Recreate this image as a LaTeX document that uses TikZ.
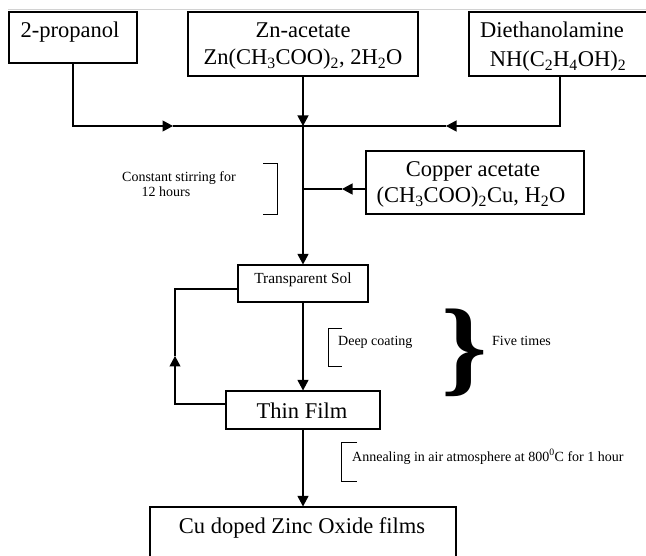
\documentclass[tikz,border=0pt]{standalone}
\usepackage{fontspec}
\setmainfont{Liberation Serif}
\usetikzlibrary{arrows.meta}
\begin{document}
\begin{tikzpicture}[x=1pt,y=-1pt,
  box/.style={draw, line width=1.1pt, inner sep=0pt},
  conn/.style={line width=1.1pt},
  arr/.style={conn, -{Triangle[length=10.5pt,width=11pt]}},
  big/.style={font=\fontsize{22.5}{26}\selectfont, inner sep=0pt, anchor=base},
  mid/.style={font=\fontsize{15.4}{18}\selectfont, inner sep=0pt, anchor=base},
  small/.style={font=\fontsize{14}{16}\selectfont, inner sep=0pt, anchor=base},
  brk/.style={line width=0.9pt}]
\useasboundingbox (0,0) rectangle (646,556);
\draw[gray!35, line width=0.8pt] (8,9) -- (646,9);
% boxes
\node[box, minimum width=128pt, minimum height=51pt] (prop) at (73,37.5) {};
\node[box, minimum width=230pt, minimum height=64pt] (zn) at (303,44) {};
\node[box, minimum width=182pt, minimum height=64pt] (dea) at (560,44) {};
\node[box, minimum width=218pt, minimum height=63pt] (cop) at (475,182.5) {};
\node[box, minimum width=130pt, minimum height=37pt] (sol) at (303,283.5) {};
\node[box, minimum width=154pt, minimum height=38pt] (thin) at (303,410) {};
\node[box, minimum width=306pt, minimum height=100pt] (cu) at (303,557) {};
% texts
\node[big] (tprop) at (70,38) {2-propanol};
\node[big] (tzn1) at (303,38) {Zn-acetate};
\node[big] (tzn2) at (303,65) {Zn(CH\textsubscript{3}COO)\textsubscript{2}, 2H\textsubscript{2}O};
\node[big] (tdea1) at (552,38) {Diethanolamine};
\node[big] (tdea2) at (558,67) {NH(C\textsubscript{2}H\textsubscript{4}OH)\textsubscript{2}};
\node[big] (tcop1) at (473,177) {Copper acetate};
\node[big] (tcop2) at (471,203) {(CH\textsubscript{3}COO)\textsubscript{2}Cu, H\textsubscript{2}O};
\node[mid] (tsol) at (303,284) {Transparent Sol};
\node[big] (tthin) at (302,418) {Thin Film};
\node[big] (tcu) at (302,533) {Cu doped Zinc Oxide films};
\node[small, anchor=base west] (tstir1) at (122,182) {Constant stirring for};
\node[small] (tstir2) at (166,197) {12 hours};
\node[small, anchor=base west] (tdeep) at (338,346) {Deep coating};
\node[small, anchor=base west] (tfive) at (492,346) {Five times};
\node[small, anchor=base west] (tann) at (352,461) {Annealing in air atmosphere at 800\textsuperscript{0}C for 1 hour};
\node[font=\fontsize{106}{106}\selectfont\bfseries, inner sep=0pt, xscale=1.1] (brace) at (464,353) {\}};
% connectors
\coordinate (j) at (303,126);
\coordinate (a1) at (173,126);
\coordinate (a2) at (446,126);
\coordinate (c1) at (342,189);
\coordinate (l1) at (175,356);
\coordinate (ly1) at (175,289);
\coordinate (ly2) at (175,404);
\draw[arr] (prop.south) |- (a1);
\draw[conn] (a1) -- (j);
\draw[arr] (dea.south) |- (a2);
\draw[conn] (a2) -- (j);
\draw[arr] (zn.south) -- (j);
\draw[arr] (j) -- (sol.north);
\draw[arr] (c1 -| cop.west) -- (c1);
\draw[conn] (c1) -- (c1 -| j);
\draw[arr] (sol.south) -- (thin.north);
\draw[arr] (thin.south) -- (cu.north);
\draw[arr] (ly2 -| thin.west) -- (ly2) -- (l1);
\draw[conn] (l1) -- (ly1) -- (ly1 -| sol.west);
% brackets
\draw[brk] (263,163) -| (277,214) -- (263,214);
\draw[brk] (342,328) -| (328,366) -- (342,366);
\draw[brk] (357,442) -| (341,481) -- (357,481);
\end{tikzpicture}
\end{document}
